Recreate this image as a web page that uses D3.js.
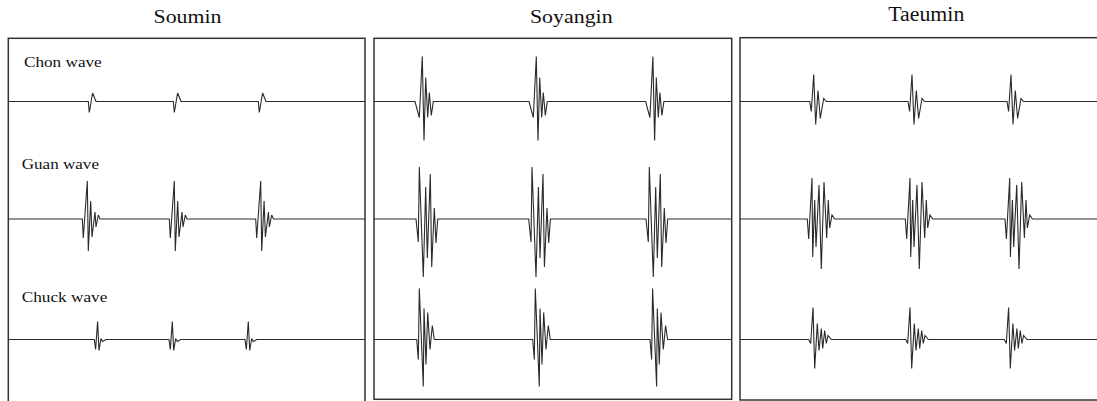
<!DOCTYPE html>
<html>
<head>
<meta charset="utf-8">
<script src="https://cdn.jsdelivr.net/npm/d3@7"></script>
<style>
  html, body { margin: 0; padding: 0; background: #fff; }
  svg { display: block; }
</style>
</head>
<body>
<svg id="chart" width="1097" height="401"></svg>
<script>
// ---------------- DATA ----------------
const panelNames = ["Soumin", "Soyangin", "Taeumin"];
const waveNames  = ["Chon wave", "Guan wave", "Chuck wave"];

// Pulse onset times (ms) for each panel, per wave row
const soumOnsets    = [[800, 1650, 2500], [740, 1610, 2474], [860, 1607, 2367]];
const soyangOnsets  = [[410, 1550, 2716], [420, 1547, 2720], [427, 1587, 2760]];
const taeumOnsets   = [[697, 1680, 2670], [673, 1653, 2650], [687, 1657, 2643]];

// Pulse waveform templates: [time offset (ms), amplitude]
const soumChon  = [[0,0],[10,-11],[43,8.5],[77,0]];
const soumGuan  = [[0,0],[10,-19],[50,38],[60,-32],[84,18],[97,-18],[127,7],[137,-8],[160,4],[177,0]];
const soumChuck = [[0,0],[13,-10],[33,18],[47,-11],[67,1],[83,-2],[117,0]];

const soyangChon  = [[0,0],[43,-16],[73,45],[90,-39],[107,24],[127,-16],[143,9],[163,-14],[183,0]];
const soyangGuan  = [[0,0],[23,-23],[33,52],[73,-58],[97,32],[113,-39],[143,45],[157,-48],[183,11],[200,-24],[217,0]];
const soyangChuck = [[0,0],[16,-20],[26,51],[66,-47],[73,31],[93,-25],[110,27],[133,-10],[156,14],[176,0]];

const taeumChon  = [[0,0],[16,-10],[40,27],[60,-23],[83,11],[106,-17],[140,3],[166,0]];
const taeumGuan  = [[0,0],[14,-20],[47,41],[54,-38],[74,19],[87,-28],[117,34],[140,-50],[167,37],[194,-19],[210,19],[224,-9],[247,4],[274,0]];
const taeumChuck = [[0,0],[20,-4],[43,32],[60,-29],[86,16],[103,-11],[126,11],[140,-9],[160,9],[176,-4],[193,4],[226,0]];

const timeDomain = [0, 3570];   // ms across a panel
const ampDomain  = [-60, 60];

// ---------------- LAYOUT ----------------
const panels = [
  { name: panelNames[0], onsets: soumOnsets,   templates: [soumChon, soumGuan, soumChuck],
    box: { x0: 8.3, y0: 38.3, x1: 365, y1: 404 }, title: { cx: 187.5, y: 23.3, w: 68, size: 19.5 }, labels: true },
  { name: panelNames[1], onsets: soyangOnsets, templates: [soyangChon, soyangGuan, soyangChuck],
    box: { x0: 374, y0: 38.3, x1: 731.7, y1: 399.3 }, title: { cx: 571.3, y: 23.3, w: 82.7, size: 19.5 }, labels: false },
  { name: panelNames[2], onsets: taeumOnsets,  templates: [taeumChon, taeumGuan, taeumChuck],
    box: { x0: 740, y0: 37.7, x1: 1100, y1: 400 }, title: { cx: 926.3, y: 20.7, w: 76, size: 20 }, labels: false }
];
const rowCenters = [101.5, 219, 339.5];
const labelPos = [
  { x: 24,   y: 66.5,  w: 77.7, size: 15 },
  { x: 21.7, y: 169.3, w: 77.3, size: 14.5 },
  { x: 21.7, y: 301.7, w: 85.7, size: 15 }
];

const SERIF = '"Liberation Serif", "Times New Roman", serif';
const svg = d3.select("#chart");

panels.forEach((p) => {
  const g = svg.append("g");
  const x = d3.scaleLinear().domain(timeDomain).range([p.box.x0, p.box.x0 + 357]);

  // frame
  g.append("rect")
    .attr("x", p.box.x0).attr("y", p.box.y0)
    .attr("width", p.box.x1 - p.box.x0).attr("height", p.box.y1 - p.box.y0)
    .attr("fill", "none").attr("stroke", "#333").attr("stroke-width", 1.5);

  // title
  g.append("text")
    .attr("x", p.title.cx - p.title.w / 2).attr("y", p.title.y)
    .style("font-family", SERIF)
    .style("font-size", p.title.size + "px")
    .attr("textLength", p.title.w).attr("lengthAdjust", "spacingAndGlyphs")
    .attr("fill", "#111")
    .text(p.name);

  const clipId = "clip-" + p.name;
  svg.append("clipPath").attr("id", clipId)
    .append("rect").attr("x", p.box.x0).attr("y", p.box.y0)
    .attr("width", Math.min(p.box.x1, 1097) - p.box.x0).attr("height", p.box.y1 - p.box.y0);

  waveNames.forEach((wn, r) => {
    const y = d3.scaleLinear().domain(ampDomain).range([rowCenters[r] + 60, rowCenters[r] - 60]);
    const tpl = p.templates[r];
    const pts = [[timeDomain[0], 0]];
    p.onsets[r].forEach(t0 => tpl.forEach(([dt, a]) => pts.push([t0 + dt, a])));
    pts.push([timeDomain[1], 0]);

    const line = d3.line().x(d => x(d[0])).y(d => y(d[1]));
    g.append("path")
      .attr("d", line(pts))
      .attr("clip-path", `url(#${clipId})`)
      .attr("fill", "none").attr("stroke", "#2a2a2a").attr("stroke-width", 1.1)
      .attr("stroke-linejoin", "miter").attr("stroke-miterlimit", 3);

    if (p.labels) {
      const lp = labelPos[r];
      g.append("text")
        .attr("x", lp.x).attr("y", lp.y)
        .style("font-family", SERIF)
        .style("font-size", lp.size + "px")
        .attr("textLength", lp.w).attr("lengthAdjust", "spacingAndGlyphs")
        .attr("fill", "#111")
        .text(wn);
    }
  });
});
</script>
</body>
</html>
